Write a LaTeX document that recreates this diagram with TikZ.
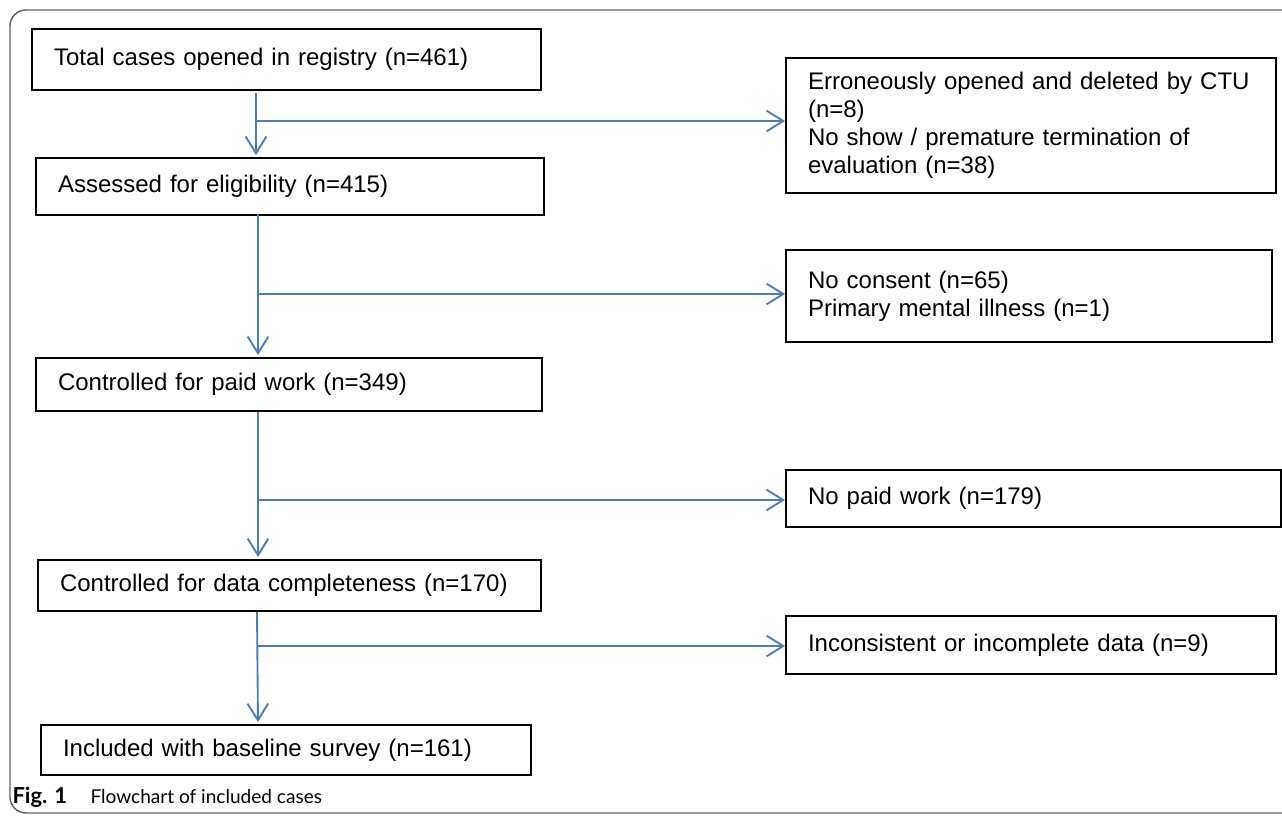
\documentclass[tikz,border=0pt]{standalone}
\usepackage{fontspec}
\setmainfont{Liberation Sans}
\newfontfamily\captionfont{Lato}
\usetikzlibrary{arrows.meta}
\definecolor{flowblue}{RGB}{74,126,187}
\definecolor{framegray}{RGB}{100,100,100}
\tikzset{every picture/.style={line width=0.75pt}}

\begin{document}
\begin{tikzpicture}[x=0.75pt,y=0.75pt,yscale=-1,xscale=1,
  box/.style 2 args={draw=black, line width=1.5pt, anchor=north west, align=left,
    inner xsep=16.5pt, inner ysep=0pt, text width=#1, minimum height=#2,
    font=\fontsize{18}{21}\selectfont},
  flow/.style={draw=flowblue, line width=1.4pt, -{Straight Barb[length=12.5pt,width=15.5pt]}},
  caption/.style={anchor=west, inner sep=0pt, font=\captionfont\fontsize{14.3}{17}\selectfont}]
\useasboundingbox (0,0) rectangle (1282,816);
\clip (0,0) rectangle (1282,816);

%Shape: Rounded frame
\draw [color=framegray, line width=1.1pt, rounded corners=12pt] (10,10) rectangle (1310,813);

%Flow boxes
\node [box={348.75pt}{45.75pt}] (total) at (31,28) {Total cases opened in registry (n=461)};
\node [box={348pt}{42.75pt}] (assessed) at (35,157) {Assessed for eligibility (n=415)};
\node [box={346.5pt}{39.75pt}] (paidwork) at (35,357) {Controlled for paid work (n=349)};
\node [box={344.25pt}{38.25pt}] (complete) at (37,559) {Controlled for data completeness (n=170)};
\node [box={334.5pt}{37.5pt}] (included) at (40,724) {Included with baseline survey (n=161)};

%Exclusion boxes
\node [box={334.5pt}{101.25pt}] (excl1) at (785,57) {Erroneously opened and deleted by CTU\\(n=8)\\No show / premature termination of\\evaluation (n=38)};
\node [box={331.5pt}{69pt}] (excl2) at (785,249) {No consent (n=65)\\Primary mental illness (n=1)};
\node [box={338.25pt}{42.75pt}] (excl3) at (785,469) {No paid work (n=179)};
\node [box={334.5pt}{43.5pt}] (excl4) at (785,615) {Inconsistent or incomplete data (n=9)};

%Straight Lines
\coordinate (top1) at (256,93);
\coordinate (top2) at (258,214);
\coordinate (top3) at (258,412);
\coordinate (top4) at (257,612);
\coordinate (join1) at (256,121);
\coordinate (join2) at (258,294);
\coordinate (join3) at (258,500);
\coordinate (join4) at (257,646);
\draw [flow, shorten >=1.5pt] (top1) -- (top1 |- assessed.north);
\draw [flow, shorten >=1.5pt] (top2) -- (top2 |- paidwork.north);
\draw [flow, shorten >=1.5pt] (top3) -- (top3 |- complete.north);
\draw [flow, shorten >=1.5pt] (top4) -- (258,722 |- included.north);
\draw [flow] (join1) -- (join1 -| excl1.west);
\draw [flow] (join2) -- (join2 -| excl2.west);
\draw [flow] (join3) -- (join3 -| excl3.west);
\draw [flow] (join4) -- (join4 -| excl4.west);

% Text Node
\node [caption, font=\captionfont\bfseries\fontsize{16.5}{19}\selectfont] (figlabel) at (12,797) {Fig. 1};
\node [caption] (figtitle) at (90,797) {Flowchart of included cases};

\end{tikzpicture}
\end{document}
